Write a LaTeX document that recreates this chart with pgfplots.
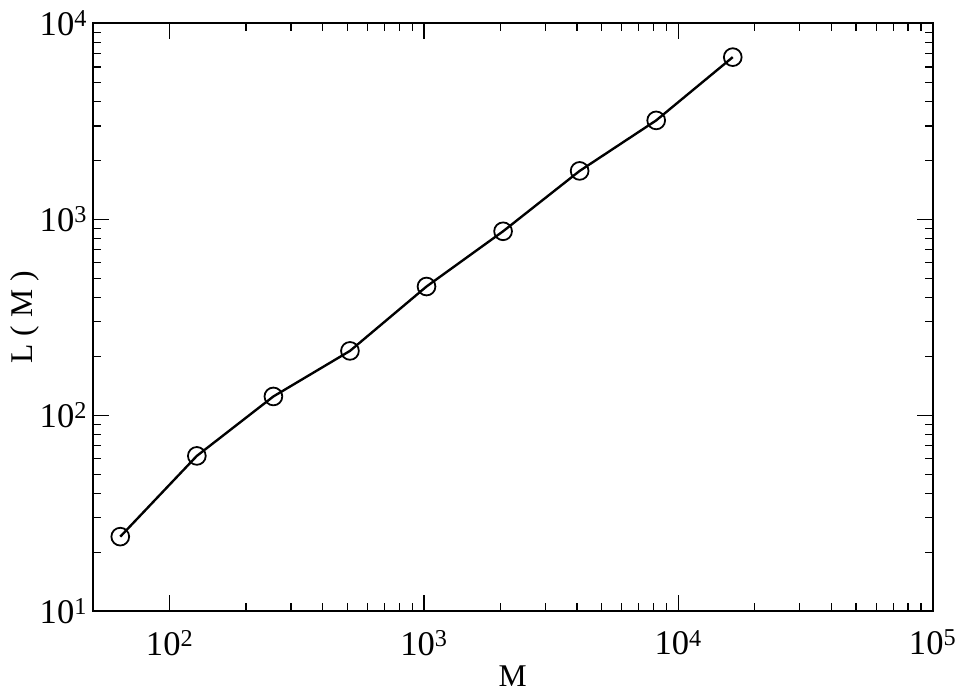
\documentclass[border=0pt]{standalone}
\usepackage{fontspec}
\setmainfont{Liberation Serif}
\usepackage{pgfplots}
\pgfplotsset{compat=1.18}
\newcommand{\tp}[1]{10\textsuperscript{#1}}
\begin{document}
\fontsize{33}{38}\selectfont
\begin{tikzpicture}
\begin{axis}[
  xmode=log, ymode=log,
  scale only axis,
  width=850pt, height=595pt,
  xmin=50, xmax=100000,
  ymin=10, ymax=10000,
  xtick={100,1000,10000,100000},
  xticklabels={\tp{2},\tp{3},\tp{4},\tp{5}},
  ytick={10,100,1000,10000},
  yticklabels={\tp{1},\tp{2},\tp{3},\tp{4}},
  tick align=inside,
  major tick length=16pt,
  minor tick length=8pt,
  every tick/.style={black, line width=1.3pt},
  axis line style={line width=2pt},
  tick label style={font=\fontsize{35}{38}\selectfont},
  yticklabel style={xshift=5pt},
  xticklabel style={yshift=-8pt},
  label style={font=\fontsize{32}{36}\selectfont},
  xlabel={M},
  ylabel={L ( M )},
  xlabel style={yshift=12pt},
  ylabel style={yshift=-22pt},
]
\addplot[black, line width=2.4pt, mark=o, mark size=9pt, mark options={line width=1.8pt, fill=none}]
coordinates {
(64,24) (128,62) (256,124.7) (512,213) (1024,454) (2048,869) (4096,1767) (8192,3200) (16384,6730)
};
\end{axis}
\end{tikzpicture}
\end{document}
